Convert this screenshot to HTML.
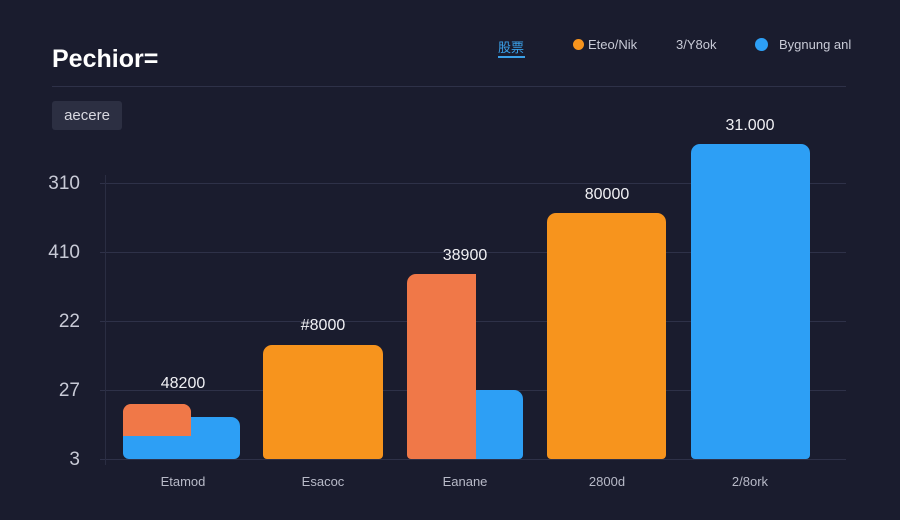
<!DOCTYPE html><html><head><style>
body{margin:0;width:900px;height:520px;background:#1a1c2e;font-family:"Liberation Sans",sans-serif;position:relative;overflow:hidden;color:#e8e8ee}
.a{position:absolute}
.g{position:absolute;left:100px;width:746px;height:1px;background:#2e3148}
.yl{position:absolute;left:40px;width:40px;text-align:right;font-size:19px;color:#c8cad6}
.b{position:absolute;border-radius:9px 9px 4px 4px}
.o{background:#f7941d}.r{background:#f07848}.bl{background:#2d9ff5}
.v{position:absolute;font-size:16px;color:#f0f0f4;width:100px;text-align:center}
.x{position:absolute;top:474px;font-size:13px;color:#b8bac8;width:100px;text-align:center}
.lg{position:absolute;top:37px;font-size:13px;color:#c8cad6}
.dot{position:absolute;width:11px;height:11px;border-radius:50%;top:39px}
</style></head><body>
<div class="a" style="left:52px;top:45px;font-size:25px;font-weight:bold;color:#fff">Pechior=</div>
<div class="lg" style="left:498px;color:#3aa0e8">股票</div>
<div class="a" style="left:498px;top:56px;width:27px;height:2px;background:#3aa0e8"></div>
<div class="dot" style="left:573px;background:#f7941d"></div>
<div class="lg" style="left:588px">Eteo/Nik</div>
<div class="lg" style="left:676px">3/Y8ok</div>
<div class="dot" style="left:755px;background:#2d9ff5;width:13px;height:13px;top:38px"></div>
<div class="lg" style="left:779px">Bygnung anl</div>
<div class="a" style="left:52px;top:86px;width:794px;height:1px;background:#2e3148"></div>
<div class="a" style="left:52px;top:101px;width:70px;height:29px;background:#2c2f42;border-radius:3px;font-size:15px;line-height:29px;text-align:center;color:#d8d8e0">aecere</div>
<div class="g" style="top:183px"></div><div class="g" style="top:252px"></div><div class="g" style="top:321px"></div><div class="g" style="top:390px"></div><div class="g" style="top:459px"></div>
<div class="a" style="left:105px;top:175px;width:1px;height:290px;background:#2a2d42"></div>
<div class="yl" style="top:173px">310</div><div class="yl" style="top:242px">410</div><div class="yl" style="top:311px">22</div><div class="yl" style="top:380px">27</div><div class="yl" style="top:449px">3</div>
<div class="b r" style="left:123px;top:404px;width:68px;height:34px"></div>
<div class="b bl" style="left:123px;top:417px;width:117px;height:42px;border-radius:0 9px 6px 6px"></div>
<div class="b r" style="left:123px;top:404px;width:68px;height:32px;border-radius:8px 8px 0 0"></div>
<div class="b o" style="left:263px;top:345px;width:120px;height:114px"></div>
<div class="b r" style="left:407px;top:274px;width:69px;height:185px;border-radius:9px 0 0 4px"></div>
<div class="b bl" style="left:476px;top:390px;width:47px;height:69px;border-radius:0 9px 4px 0"></div>
<div class="b o" style="left:547px;top:213px;width:119px;height:246px"></div>
<div class="b bl" style="left:691px;top:144px;width:119px;height:315px"></div>
<div class="v" style="left:133px;top:375px">48200</div>
<div class="v" style="left:273px;top:317px">#8000</div>
<div class="v" style="left:415px;top:247px">38900</div>
<div class="v" style="left:557px;top:186px">80000</div>
<div class="v" style="left:700px;top:117px">31.000</div>
<div class="x" style="left:133px">Etamod</div><div class="x" style="left:273px">Esacoc</div><div class="x" style="left:415px">Eanane</div><div class="x" style="left:557px">2800d</div><div class="x" style="left:700px">2/8ork</div>
</body></html>
